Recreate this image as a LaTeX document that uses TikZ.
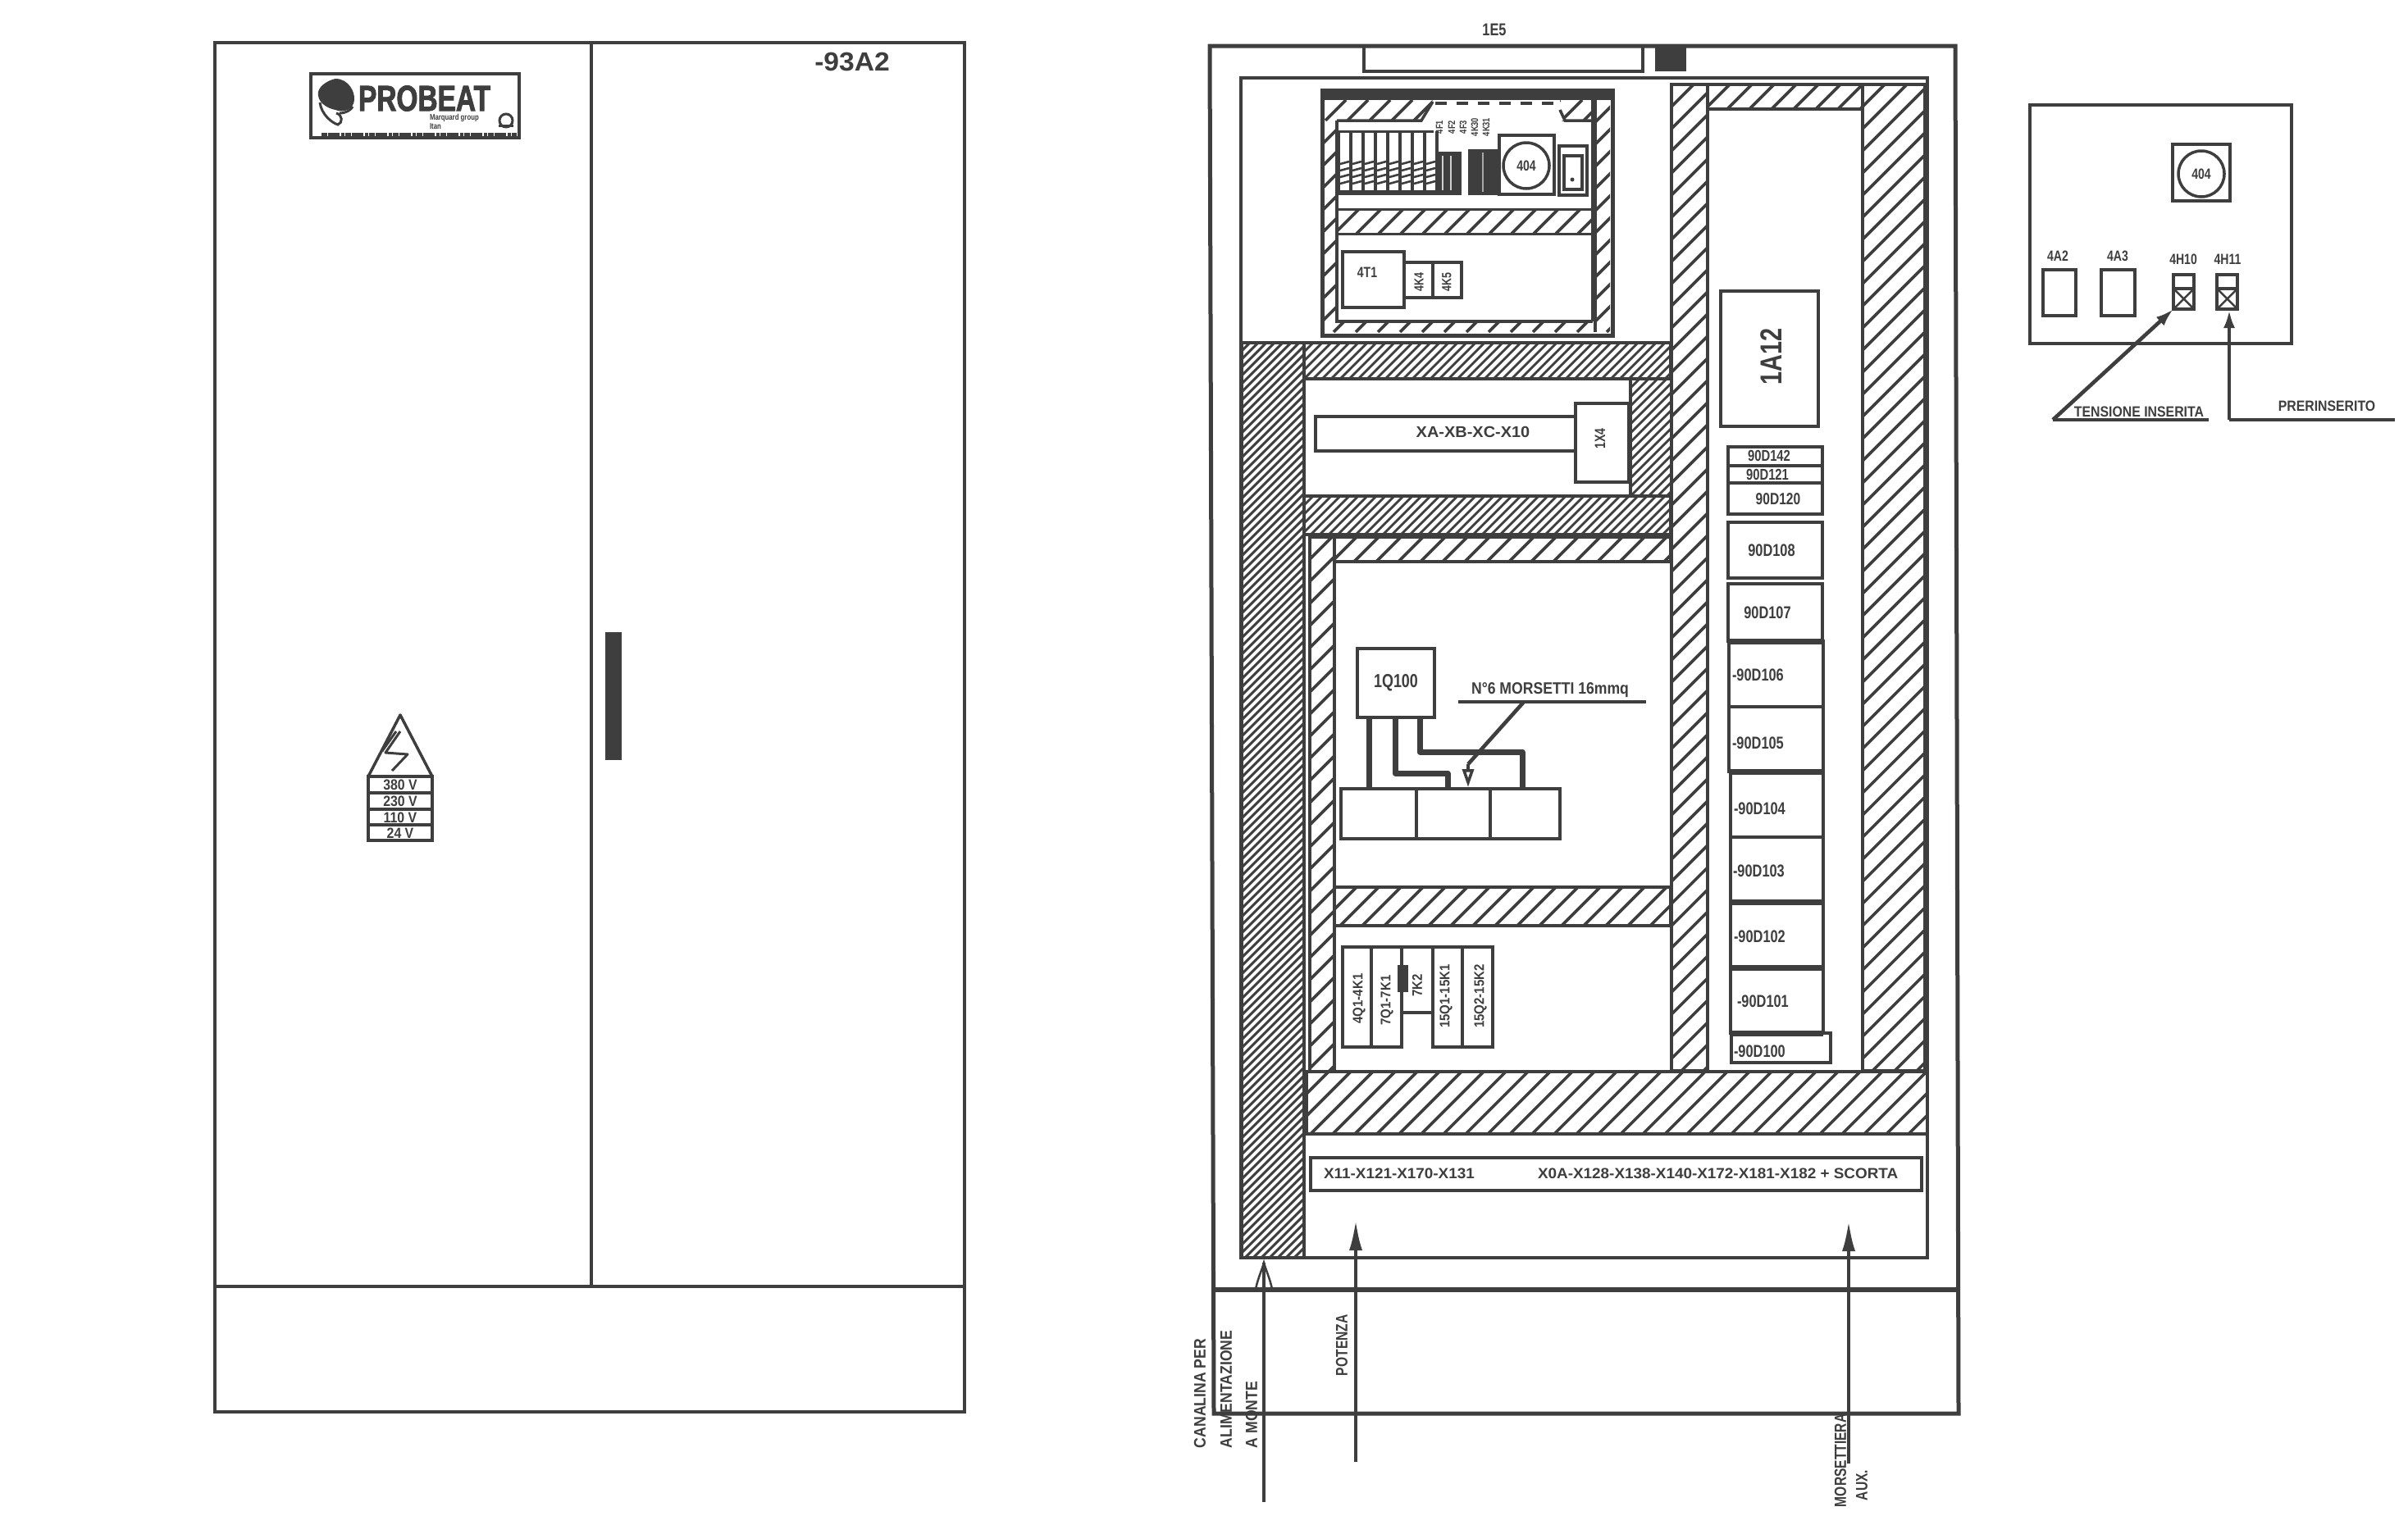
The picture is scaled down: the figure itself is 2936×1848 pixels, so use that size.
\documentclass[tikz,border=0pt]{standalone}
\usepackage{fontspec}
\usetikzlibrary{arrows.meta}
\newfontfamily\cad[FakeStretch=0.78]{Liberation Sans Bold}
\newfontfamily\cadm[FakeStretch=0.88]{Liberation Sans Bold}
\newfontfamily\cadw[FakeStretch=1.05]{Liberation Sans Bold}
\newfontfamily\cadb[FakeStretch=0.76,FakeBold=2]{Liberation Sans Bold}
\definecolor{ink}{HTML}{3E3E3E}
\tikzset{
  boxn/.style={draw=ink,line width=4.6pt,inner sep=0pt,outer sep=0pt},
  lab/.style={text=ink,inner sep=0pt,outer sep=0pt,font=\cad},
  thin line/.style={draw=ink,line width=4.6pt},
  wire/.style={draw=ink,line width=7pt,line join=round},
  tipped/.style={draw=ink,line width=4.6pt,-{Latex[length=38pt,width=16pt]}},
  smalltip/.style={draw=ink,line width=4.6pt,-{Latex[length=22pt,width=14pt]}}
}
% #1 name, corners #2 #3 #4 #5
\newcommand\bx[5]{\pgfmathsetmacro\bxw{#4-#2}\pgfmathsetmacro\bxh{#5-#3}%
  \node[boxn,minimum width=\bxw pt,minimum height=\bxh pt] (#1) at ({(#2+#4)/2},{(#3+#5)/2}) {};}
% #1 name, #2 x, #3 y, #4 size, #5 rotation, #6 text
\newcommand\lb[6]{\node[lab,rotate=#5] (#1) at (#2,#3) {\fontsize{#4pt}{#4pt}\selectfont #6};}
% left aligned
\newcommand\lw[5]{\node[lab,anchor=west] (#1) at (#2,#3) {\fontsize{#4pt}{#4pt}\selectfont #5};}
% rotated, starting at the bottom
\newcommand\lu[5]{\node[lab,rotate=90,anchor=west] (#1) at (#2,#3) {\fontsize{#4pt}{#4pt}\selectfont #5};}
% hatch x1 y1 x2 y2 spacing width
\newcommand\hatch[6]{\begin{scope}
  \clip (#1,#2) rectangle (#3,#4);
  \pgfmathsetmacro\hh{#4-#2}
  \pgfmathtruncatemacro\hn{(#3-#1+\hh)/#5+1}
  \foreach \i in {0,...,\hn}{
    \pgfmathsetmacro\hx{#1-\hh+\i*#5}
    \draw[ink,line width=#6pt] (\hx,#4) -- ++(\hh,-\hh);
  }
  \end{scope}}
\begin{document}
\begin{tikzpicture}[x=1pt,y=-1pt]
\useasboundingbox (0,0) rectangle (2936,1848);
\fill[white] (0,0) rectangle (2936,1848);

%% LEFT CABINET
\bx{leftcab}{262}{52}{1176}{1722}
\draw[thin line] (721,52) -- (721,1569);
\draw[thin line] (262,1569) -- (1176,1569);
\fill[ink] (738,771) rectangle (758,927);
\lb{tag}{1039}{76}{32}{0}{{\cadw -93A2}}
% logo
\bx{logo}{379}{90}{633}{168}
\fill[ink] (409,96) .. controls (425,96) and (433,112) .. (432,122) .. controls (431,134) and (418,138) .. (409,134) .. controls (398,132) and (386,124) .. (388,112) .. controls (390,104) and (400,98) .. (409,96) -- cycle;
\draw[ink,line width=3pt] (390,125) .. controls (392,140) and (405,150) .. (412,152) .. controls (418,150) and (418,140) .. (410,138);
\draw[ink,line width=3pt] (414,138) .. controls (422,138) and (428,134) .. (430,130);
\lw{probeat}{437}{120}{44}{{\cadb PROBEAT}}
\lw{group}{524}{144}{10}{Marquard group}
\lw{group2}{524}{154}{10}{Itan}
\draw[ink,line width=3pt] (617,147) circle (8);
\draw[ink,line width=3pt] (608,153) -- (626,153);
\draw[ink,line width=5pt,dash pattern=on 7pt off 1pt on 14pt off 2pt on 4pt off 1pt] (392,164) -- (630,164);
% voltage sign
\draw[ink,line width=3.5pt,line join=round] (449,947) -- (488,872) -- (527,947);
\bx{volt}{449}{947}{527}{1025}
\draw[ink,line width=4pt] (449,967) -- (527,967) (449,987) -- (527,987) (449,1006) -- (527,1006);
\draw[ink,line width=3pt,line join=round] (488,892) -- (470,918) -- (497,920) -- (478,940);
\draw[ink,line width=3pt] (483,892) -- (466,916);
\lb{v380}{488}{957}{18}{0}{{\cadm 380 V}}
\lb{v230}{488}{977}{18}{0}{{\cadm 230 V}}
\lb{v110}{488}{997}{18}{0}{{\cadm 110 V}}
\lb{v24}{488}{1016}{18}{0}{{\cadm 24 V}}

%% RIGHT CABINET: hatched ducts first
% fine hatching
\hatch{1514}{418}{1590}{1534}{10}{3}
\hatch{1590}{418}{2037}{462}{11}{2.8}
\hatch{1590}{605}{2037}{652}{11}{2.8}
\hatch{1988}{462}{2037}{605}{11}{2.8}
% coarse hatching
\hatch{1627}{655}{2037}{685}{27}{3.6}
\hatch{1597}{655}{1627}{1307}{27}{3.6}
\hatch{1627}{1082}{2037}{1129}{27}{3.6}
\hatch{1593}{1307}{2350}{1383}{27}{3.6}
\hatch{2038}{103}{2082}{1306}{27}{3.6}
\hatch{2082}{103}{2271}{133}{27}{3.6}
\hatch{2271}{103}{2347}{1306}{27}{3.6}
% outlines
\draw[ink,line width=5pt,line join=miter] (1475,56) -- (2384,56) -- (2388,1724) -- (1480,1724) -- cycle;
\coordinate (baseL) at (1479,1573);
\coordinate (baseR) at (2388,1573);
\draw[ink,line width=6pt] (baseL) -- (baseR);
\bx{oneE5}{1663}{56}{2003}{87}
\fill[ink] (2018,56) rectangle (2056,87);
\lb{e5}{1822}{36}{21}{0}{1E5}
\bx{panel}{1513}{95}{2350}{1534}
\bx{finecol}{1514}{418}{1590}{1534}
\draw[ink,line width=4pt] (1590,418) rectangle (2037,462);
\draw[ink,line width=4pt] (1590,605) rectangle (2037,652);
\draw[ink,line width=4pt] (1988,462) -- (1988,605);
\draw[ink,line width=4pt] (1627,655) rectangle (2037,685);
\draw[ink,line width=4pt] (1597,655) rectangle (1627,1307);
\draw[ink,line width=4pt] (1627,1082) rectangle (2037,1129);
\draw[ink,line width=4pt] (1593,1307) rectangle (2350,1383);
\draw[ink,line width=4pt] (2038,103) rectangle (2082,1306);
\draw[ink,line width=4pt] (2082,103) rectangle (2271,133);
\draw[ink,line width=4pt] (2271,103) rectangle (2347,1306);

%% top sub-enclosure
\hatch{1614}{122}{1747}{147}{27}{3.6}
\fill[white] (1747,122) -- (1733,147) -- (1750,147) -- cycle;
\hatch{1902}{122}{1942}{147}{27}{3.6}
\fill[white] (1900,122) -- (1902,134) -- (1908,147) -- (1900,147) -- cycle;
\hatch{1614}{147}{1630}{392}{27}{3.6}
\hatch{1945}{122}{1963}{405}{27}{3.6}
\hatch{1614}{390}{1942}{405}{27}{3.6}
\hatch{1630}{255}{1942}{285}{27}{3.6}
\draw[ink,line width=5pt] (1612,110) rectangle (1966,409);
\fill[ink] (1610,108) rectangle (1968,122);
\draw[ink,line width=3.5pt] (1630,147) -- (1733,147) -- (1747,124);
\draw[ink,line width=3.5pt,dash pattern=on 14pt off 12pt] (1750,126) -- (1902,126);
\draw[ink,line width=3.5pt] (1902,134) -- (1908,147) -- (1942,147);
\draw[ink,line width=4pt] (1630,147) -- (1630,392) -- (1942,392) (1942,122) -- (1942,392);
\draw[ink,line width=3pt] (1630,255) -- (1942,255) (1630,285) -- (1942,285);
\draw[ink,line width=3.5pt] (1942,122) -- (1945,122) -- (1945,405);
% modules
\draw[ink,line width=3pt] (1630,160) -- (1748,160);
\foreach \i in {0,...,8}{
  \fill[ink] ({1630+\i*15},160) rectangle ({1634+\i*15},237);
}
\fill[ink] (1630,232) rectangle (1750,238);
\foreach \i in {0,...,7}{
  \foreach \j in {200,208,216,224}{
    \draw[ink,line width=2.6pt] ({1634+\i*15},\j) -- ++(11,-3);
  }
}
\fill[ink] (1750,185) rectangle (1782,238);
\draw[white!75!ink,line width=2pt] (1759,190) -- (1759,232) (1769,190) -- (1769,232);
\fill[ink] (1790,182) rectangle (1828,238);
\draw[white!55!ink,line width=2pt] (1808,186) -- (1808,234);
\bx{fourQ}{1828}{165}{1895}{237}
\node[draw=ink,line width=3.5pt,circle,minimum size=56pt,inner sep=0pt] (dial) at (1861,202) {};
\lb{dialt}{1861}{202}{18}{0}{404}
\bx{devA}{1901}{178}{1935}{238}
\bx{devB}{1907}{190}{1929}{231}
\fill[ink] (1917,219) circle (2.5);
\lb{k1}{1755}{155}{12}{90}{4F1}
\lb{k2}{1770}{155}{12}{90}{4F2}
\lb{k3}{1784}{155}{12}{90}{4F3}
\lb{k4}{1798}{155}{12}{90}{4K30}
\lb{k5}{1812}{155}{12}{90}{4K31}
\bx{tT1}{1637}{307}{1712}{375}
\lb{tT1l}{1667}{332}{18}{0}{4T1}
\bx{kA}{1712}{320}{1747}{363}
\bx{kB}{1747}{320}{1782}{363}
\lb{kAl}{1730}{344}{16}{90}{4K4}
\lb{kBl}{1764}{344}{16}{90}{4K5}

%% XA row
\bx{xa}{1604}{508}{1921}{550}
\bx{oneX4}{1921}{492}{1986}{588}
\lb{xal}{1796}{527}{19}{0}{{\cadw XA-XB-XC-X10}}
\lb{onex}{1951}{535}{18}{90}{1X4}

%% Q100
\bx{Q}{1655}{791}{1749}{875}
\lb{Ql}{1702}{833}{23}{0}{1Q100}
\bx{t1}{1635}{962}{1727}{1023}
\bx{t2}{1727}{962}{1817}{1023}
\bx{t3}{1817}{962}{1902}{1023}
\draw[wire] (1669,875) -- (1669,962);
\draw[wire] (1701,875) -- (1701,943) -- (1765,943) -- (1765,962);
\draw[wire] (1731,875) -- (1731,917) -- (1856,917) -- (1856,962);
\coordinate (n1) at (1778,856);
\coordinate (n2) at (2007,856);
\coordinate (n3) at (1858,856);
\coordinate (n4) at (1790,932);
\coordinate (n5) at (1790,960);
\draw[thin line] (n1) -- (n2);
\draw[thin line] (n3) -- (n4);
\draw[draw=ink,line width=3.5pt,-{Triangle[open,length=22pt,width=14pt]}] (n4) -- (n5);
\lb{nsei}{1890}{842}{20}{0}{{\cadm N°6 MORSETTI 16mmq}}

%% bottom-left devices
\bx{d1}{1637}{1155}{1672}{1277}
\bx{d2}{1672}{1155}{1709}{1277}
\bx{d3}{1709}{1155}{1747}{1235}
\bx{d4}{1747}{1155}{1783}{1277}
\bx{d5}{1783}{1155}{1820}{1277}
\fill[ink] (1704,1177) rectangle (1717,1210);
\lb{d1l}{1657}{1218}{17}{90}{{\cadm 4Q1-4K1}}
\lb{d2l}{1691}{1220}{17}{90}{{\cadm 7Q1-7K1}}
\lb{d3l}{1728}{1202}{17}{90}{{\cadm 7K2}}
\lb{d4l}{1763}{1215}{17}{90}{{\cadm 15Q1-15K1}}
\lb{d5l}{1805}{1215}{17}{90}{{\cadm 15Q2-15K2}}

%% right column
\bx{aTwelve}{2098}{355}{2217}{520}
\lb{a12}{2160}{435}{37}{90}{1A12}
\bx{e142}{2107}{545}{2222}{568}
\bx{e121}{2107}{568}{2222}{589}
\bx{e120}{2107}{589}{2222}{627}
\lb{e142l}{2157}{556}{19}{0}{90D142}
\lb{e121l}{2155}{579}{19}{0}{90D121}
\lb{e120l}{2168}{609}{20}{0}{90D120}
\bx{e108}{2107}{637}{2222}{705}
\lb{e108l}{2160}{671}{21}{0}{90D108}
\bx{e107}{2107}{712}{2222}{782}
\lb{e107l}{2155}{747}{21}{0}{90D107}
\bx{e106}{2108}{782}{2223}{862}
\bx{e105}{2108}{862}{2223}{941}
\bx{e104}{2110}{941}{2223}{1021}
\bx{e103}{2110}{1021}{2223}{1100}
\bx{e102}{2110}{1100}{2223}{1180}
\bx{e101}{2110}{1180}{2223}{1260}
\bx{e100}{2111}{1260}{2232}{1296}
\draw[ink,line width=7pt] (2108,782) -- (2223,782) (2108,941) -- (2223,941) (2110,1100) -- (2223,1100) (2110,1180) -- (2223,1180) (2110,1260) -- (2223,1260);
\lw{e106l}{2112}{823}{21}{-90D106}
\lw{e105l}{2112}{906}{21}{-90D105}
\lw{e104l}{2114}{986}{21}{-90D104}
\lw{e103l}{2113}{1062}{21}{-90D103}
\lw{e102l}{2114}{1142}{21}{-90D102}
\lw{e101l}{2118}{1221}{21}{-90D101}
\lw{e100l}{2114}{1282}{21}{-90D100}

%% terminal bar
\bx{bar}{1598}{1412}{2343}{1452}
\lw{barA}{1614}{1431}{18}{{\cadw X11-X121-X170-X131}}
\lw{barB}{1875}{1431}{18}{{\cadw X0A-X128-X138-X140-X172-X181-X182 + SCORTA}}

%% entry arrows
\coordinate (a1) at (1653,1783);
\coordinate (a2) at (1653,1487);
\coordinate (b1) at (2254,1785);
\coordinate (b2) at (2254,1488);
\coordinate (c1) at (1541,1832);
\coordinate (c2) at (1541,1540);
\coordinate (c3) at (1531,1572);
\coordinate (c4) at (1551,1572);
\draw[tipped] (a1) -- (a2);
\draw[tipped] (b1) -- (b2);
\draw[thin line] (c1) -- (c2);
\draw[draw=ink,line width=2.5pt] (c3) .. controls (1534,1558) and (1539,1548) .. (c2) .. controls (1543,1548) and (1548,1558) .. (c4);
\lu{cana}{1463}{1766}{20}{{\cadm CANALINA PER}}
\lu{alim}{1495}{1766}{20}{{\cadm ALIMENTAZIONE}}
\lu{mont}{1526}{1766}{20}{{\cadm A MONTE}}
\lu{pot}{1636}{1678}{20}{POTENZA}
\lu{mors}{2244}{1838}{20}{MORSETTIERA}
\lu{aux}{2270}{1830}{20}{AUX.}

%% door panel (far right)
\bx{door}{2475}{128}{2794}{419}
\bx{dsq}{2649}{176}{2719}{245}
\node[draw=ink,line width=3.5pt,circle,minimum size=56pt,inner sep=0pt] (ddial) at (2684,212) {};
\lb{ddl}{2684}{212}{18}{0}{404}
\bx{aTwo}{2491}{329}{2531}{385}
\bx{aThree}{2562}{329}{2603}{385}
\bx{hTen}{2650}{335}{2675}{377}
\bx{hEl}{2703}{335}{2728}{377}
\draw[ink,line width=3.5pt] (2650,352) -- (2675,352) (2703,352) -- (2728,352);
\draw[ink,line width=2.5pt] (2650,352) -- (2675,377) (2675,352) -- (2650,377);
\draw[ink,line width=2.5pt] (2703,352) -- (2728,377) (2728,352) -- (2703,377);
\lb{a2l}{2509}{312}{18}{0}{4A2}
\lb{a3l}{2582}{312}{18}{0}{4A3}
\lb{h10l}{2662}{316}{18}{0}{4H10}
\lb{h11l}{2716}{316}{18}{0}{4H11}
\coordinate (s1) at (2503,512);
\coordinate (s2) at (2693,512);
\coordinate (p1) at (2718,512);
\coordinate (p2) at (2920,512);
\draw[thin line] (s1) -- (s2);
\draw[smalltip] (s1) -- (hTen.south west);
\draw[thin line] (p2) -- (p1);
\draw[smalltip] (p1) -- (2718,378);
\lb{tens}{2608}{502}{18}{0}{{\cadm TENSIONE INSERITA}}
\lb{prer}{2837}{495}{18}{0}{{\cadm PRERINSERITO}}
\end{tikzpicture}
\end{document}
